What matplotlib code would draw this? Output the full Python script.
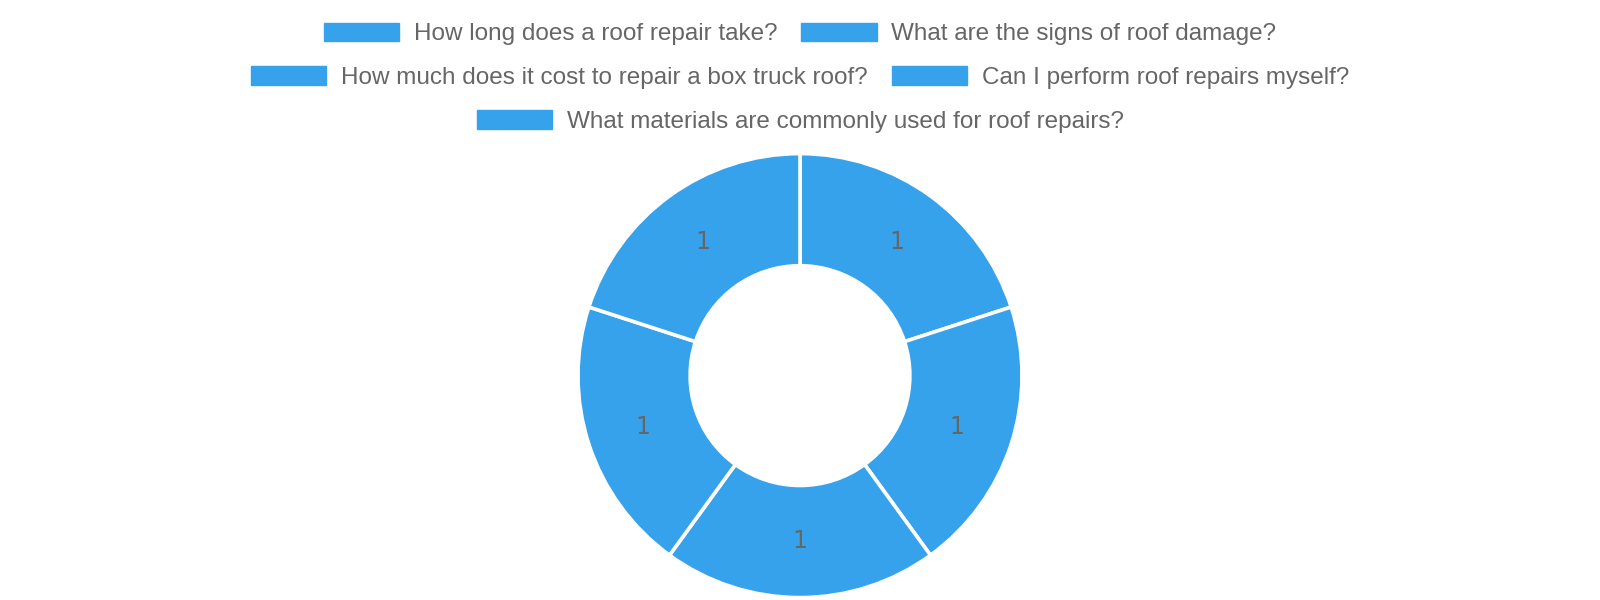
import matplotlib.pyplot as plt
from matplotlib.patches import Patch

questions = [
    "How long does a roof repair take?",
    "What are the signs of roof damage?",
    "How much does it cost to repair a box truck roof?",
    "Can I perform roof repairs myself?",
    "What materials are commonly used for roof repairs?",
]
counts = [1, 1, 1, 1, 1]
legend_rows = [[0, 1], [2, 3], [4]]

blue = "#36a2eb"
grey = "#666666"

fig = plt.figure(figsize=(16, 6), dpi=100)
ax = fig.add_axes([0.36125, 0.004, 0.2775, 0.74])

total = sum(counts)
wedges, texts, autotexts = ax.pie(
    counts, colors=[blue] * len(counts), startangle=90, counterclock=False,
    radius=1, wedgeprops=dict(width=0.505, edgecolor="white", linewidth=2.6),
    autopct=lambda p: f"{p * total / 100:.0f}", pctdistance=0.745,
    textprops=dict(color=grey, fontsize=17, family="DejaVu Sans"))
ax.set_xlim(-1, 1)
ax.set_ylim(-1, 1)
ax.set_aspect("equal")
ax.axis("off")

# chart.js style legend: centred rows
row_y = [1 - 34 / 600, 1 - 77.5 / 600, 1 - 121.5 / 600]
for row, y in zip(legend_rows, row_y):
    handles = [Patch(facecolor=blue, edgecolor=blue) for i in row]
    leg = fig.legend(handles, [questions[i] for i in row], loc="center",
                     bbox_to_anchor=(0.5, y), ncol=len(row), frameon=False,
                     prop=dict(family="Liberation Sans", size=17.5),
                     handlelength=3.1, handleheight=0.82, handletextpad=0.6,
                     columnspacing=1.0, borderpad=0, borderaxespad=0)
    for t in leg.get_texts():
        t.set_color(grey)

fig.savefig("out.png", dpi=100)
